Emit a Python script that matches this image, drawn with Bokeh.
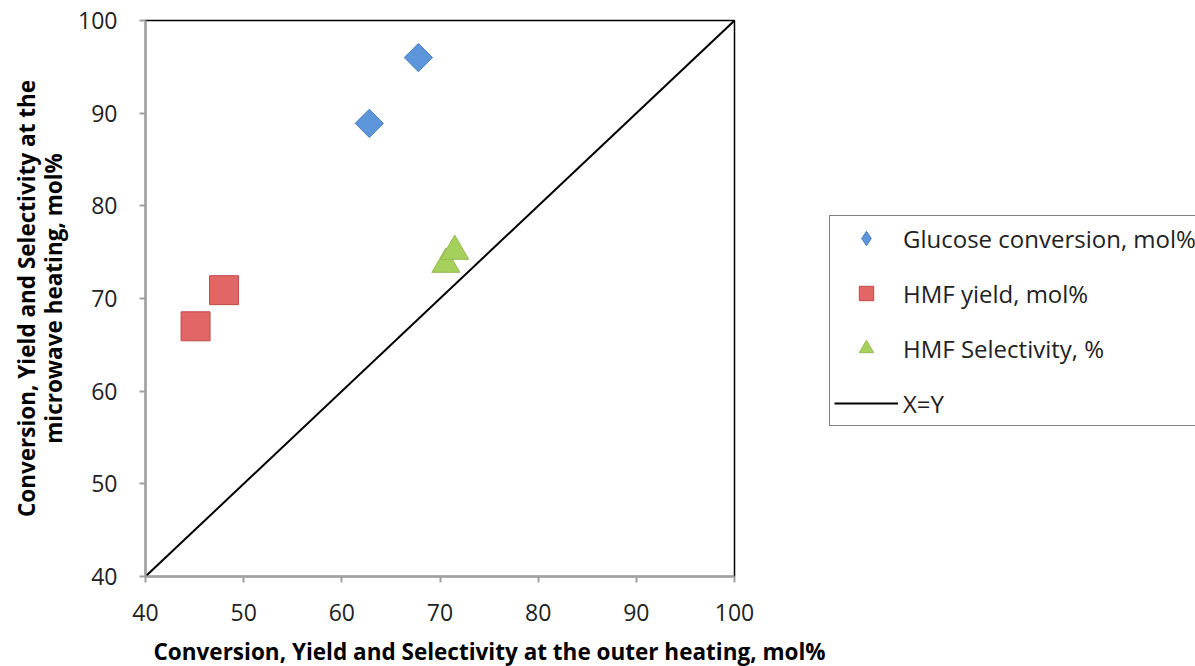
import numpy as np
from bokeh.plotting import figure
from bokeh.models import Legend, LegendItem, Range1d, FixedTicker, Title
from bokeh.embed import file_html
from bokeh.resources import INLINE

# Data
glucose_x = [62.8, 67.8]
glucose_y = [88.9, 96.0]
yield_x = [45.1, 48.0]
yield_y = [67.0, 70.9]
sel_x = [70.6, 71.5]
sel_y = [73.7, 75.1]
xy_x = [40, 100]
xy_y = [40, 100]
ticks = [40, 50, 60, 70, 80, 90, 100]

labels = ["Glucose conversion, mol%", "HMF yield, mol%", "HMF Selectivity, %", "X=Y"]
x_title = "Conversion, Yield and Selectivity at the outer heating, mol%"
y_title = "Conversion, Yield and Selectivity at the\nmicrowave heating, mol%"

FONT = "Open Sans"
BLUE_F, BLUE_L = "#5d95da", "#4a7ebb"
RED_F, RED_L = "#e26666", "#bf4b48"
GRN_F, GRN_L = "#a6d05c", "#97b953"

p = figure(frame_width=589, frame_height=556, output_backend="svg", toolbar_location=None,
           x_range=Range1d(40, 100), y_range=Range1d(40, 100),
           min_border_left=145, min_border_right=461, min_border_top=20, min_border_bottom=90,
           background_fill_color="white", border_fill_color="white")

p.xgrid.visible = False
p.ygrid.visible = False
p.outline_line_color = "black"
p.outline_line_width = 1.5

for ax in (p.xaxis[0], p.yaxis[0]):
    ax.ticker = FixedTicker(ticks=ticks)
    ax.axis_line_color = "#a0a0a0"
    ax.axis_line_width = 2
    ax.major_tick_line_color = "#a0a0a0"
    ax.major_tick_line_width = 2
    ax.major_tick_out = 6
    ax.major_tick_in = 0
    ax.minor_tick_line_color = None
    ax.major_label_text_font = FONT
    ax.major_label_text_font_size = "23px"
    ax.major_label_text_color = "#222222"
    ax.axis_label_text_font = FONT
    ax.axis_label_text_font_style = "bold"
    ax.axis_label_text_font_size = "22.5px"
    ax.axis_label_text_color = "black"

p.yaxis.axis_label = y_title
p.yaxis.axis_label_text_line_height = 0.88
p.xaxis.major_label_standoff = 21
p.yaxis.major_label_standoff = 22
p.yaxis.axis_label_standoff = 6

xt = Title(text=x_title, align="left", offset=8, standoff=20,
           text_font=FONT, text_font_style="bold", text_font_size="22.5px",
           text_color="black")
p.add_layout(xt, "below")

r_glu = p.scatter(glucose_x, glucose_y, marker="square", angle=np.pi / 4, size=20,
                  fill_color=BLUE_F, line_color=BLUE_L, line_width=1)
r_yld = p.scatter(yield_x, yield_y, marker="square", size=29,
                  fill_color=RED_F, line_color=RED_L, line_width=1)
r_sel = p.scatter(sel_x, sel_y, marker="triangle", size=28,
                  fill_color=GRN_F, line_color=GRN_L, line_width=1)
r_xy = p.line(xy_x, xy_y, line_color="black", line_width=2)

# legend proxy (size 0 in the plot) so the legend shows a diamond shape
r_glu_leg = p.scatter(glucose_x, glucose_y, marker="diamond", size=0,
                      fill_color=BLUE_F, line_color=BLUE_L, line_width=1)

legend = Legend(items=[LegendItem(label=labels[0], renderers=[r_glu_leg]),
                       LegendItem(label=labels[1], renderers=[r_yld]),
                       LegendItem(label=labels[2], renderers=[r_sel]),
                       LegendItem(label=labels[3], renderers=[r_xy])],
                location=(95, 150))
legend.border_line_color = "black"
legend.border_line_width = 1.5
legend.background_fill_color = "white"
legend.background_fill_alpha = 1
legend.label_text_font = FONT
legend.label_text_font_size = "24px"
legend.label_text_color = "#222222"
legend.glyph_width = 64
legend.glyph_height = 36
legend.label_height = 30
legend.spacing = 19
legend.padding = 4
legend.margin = 0
legend.label_standoff = 5
p.add_layout(legend, "right")

open("out.html", "w").write(file_html(p, INLINE))
